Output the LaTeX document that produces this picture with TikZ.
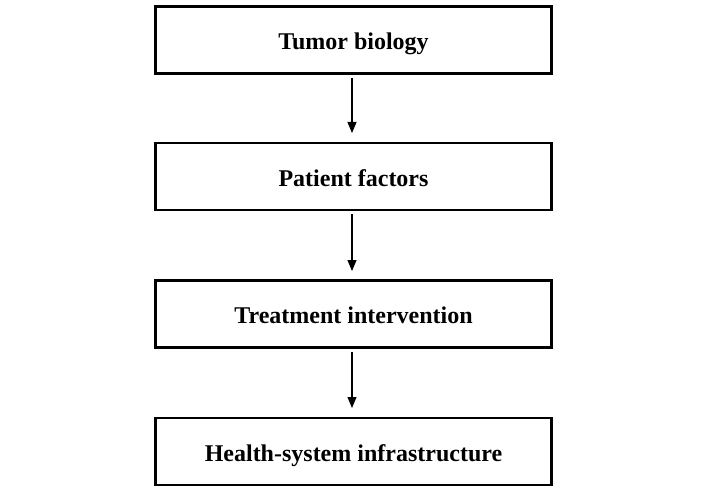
\documentclass[tikz,border=0pt]{standalone}
\usepackage{fontspec}
\setmainfont{Liberation Serif}
\usetikzlibrary{arrows.meta}
\begin{document}
\begin{tikzpicture}[x=1pt,y=-1pt,
  stagebox/.style={draw=black,line width=2.6pt,minimum width=396pt,minimum height=67pt,inner sep=0pt,text height=24pt,text depth=5pt,font=\bfseries\fontsize{24}{28}\selectfont},
  flowarrow/.style={line width=1.1pt,-{Triangle[length=11pt,width=9pt]}}]
\useasboundingbox[fill=white] (0,0) rectangle (706,497);
\node[stagebox] (b1) at (353.5,40) {Tumor biology};
\node[stagebox] (b2) at (353.5,176.5) {Patient factors};
\node[stagebox] (b3) at (353.5,314) {Treatment intervention};
\node[stagebox] (b4) at (353.5,451.5) {Health-system infrastructure};
\coordinate (e1) at (352,133);
\coordinate (e2) at (352,271);
\coordinate (e3) at (352,408);
\draw[flowarrow] (b1.south -| e1) ++(0,3) -- (e1);
\draw[flowarrow] (b2.south -| e2) ++(0,3) -- (e2);
\draw[flowarrow] (b3.south -| e3) ++(0,3) -- (e3);
\end{tikzpicture}
\end{document}
